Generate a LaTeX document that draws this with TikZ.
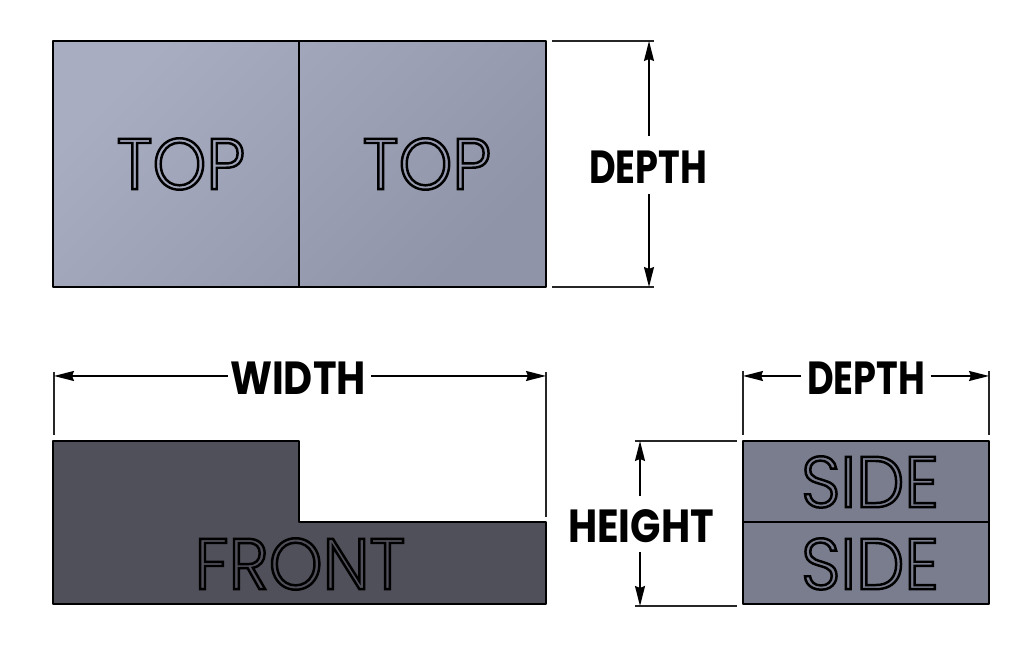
\documentclass[tikz,border=0pt]{standalone}
\usepackage{fontspec}
\setmainfont{Poppins Light}[FakeStretch=0.95]
\newfontfamily\dimfont{Poppins Bold}[FakeStretch=0.79]
\newfontfamily\dimwide{Poppins Bold}[FakeStretch=0.86]
\usetikzlibrary{arrows.meta}
\newcommand{\hollow}[1]{\special{pdf:code q 1 Tr 0.7 w 0 0 0 RG}#1\special{pdf:code Q}}
\definecolor{topa}{HTML}{A9ADC2}
\definecolor{topb}{HTML}{9094A9}
\definecolor{frontc}{HTML}{4F5059}
\definecolor{sidec}{HTML}{7A7D8E}
\tikzset{
  outline/.style={draw=black,line width=0.6pt,line join=round},
  engraved/.style={inner sep=0pt,font=\fontsize{20.5}{20.5}\selectfont},
  dimtext/.style={inner sep=0pt,font=\fontsize{13.2}{13.2}\dimfont},
  dimtextw/.style={inner sep=0pt,font=\fontsize{13.2}{13.2}\dimwide},
  extline/.style={draw=black!85,line width=0.5pt},
  dimline/.style={draw=black,line width=0.45pt,-{Stealth[length=2mm,width=1mm,inset=0.2mm]}},
}
\begin{document}
\begin{tikzpicture}[x=0.01cm,y=-0.01cm]
\useasboundingbox (0,0) rectangle (1024,659);
% top view
\shade[top color=topa,bottom color=topb,shading angle=45] (53,41) rectangle (546,287);
\draw[outline] (53,41) rectangle (546,287);
\draw[outline] (299,41) -- (299,287);
\node[engraved] (topa) at (181,164) {\hollow{TOP}};
\node[engraved] (topb) at (427,164) {\hollow{TOP}};
% front view
\draw[outline,fill=frontc] (53,441) -- (299,441) -- (299,522) -- (546,522) -- (546,604) -- (53,604) -- cycle;
\node[engraved] (front) at (300,564) {\hollow{FRONT}};
% side view
\draw[outline,fill=sidec] (743,441) rectangle (989,604);
\draw[outline] (743,522) -- (989,522);
\node[engraved] (sidea) at (870,482) {\hollow{SIDE}};
\node[engraved] (sideb) at (870,564) {\hollow{SIDE}};
% dimension labels
\node[dimtext] (depthr) at (648,167) {DEPTH};
\node[dimtextw] (width) at (298,378) {WIDTH};
\node[dimtext] (depths) at (866,378) {DEPTH};
\node[dimtextw] (height) at (641,526) {HEIGHT};
% extension lines
\draw[extline] (552,41) -- (654,41);
\draw[extline] (552,287) -- (654,287);
\draw[extline] (54,372) -- (54,435);
\draw[extline] (546,372) -- (546,517);
\draw[extline] (743,371) -- (743,435);
\draw[extline] (989,371) -- (989,435);
\draw[extline] (635,441) -- (737,441);
\draw[extline] (635,606) -- (737,606);
% dimension line ends
\coordinate (du) at (649,41);
\coordinate (dd) at (649,287);
\coordinate (wl) at (54,376);
\coordinate (wr) at (546,376);
\coordinate (sl) at (743,376);
\coordinate (sr) at (989,376);
\coordinate (hu) at (640,441);
\coordinate (hd) at (640,606);
% dimension lines
\draw[dimline] (depthr.north -| du) ++(0,-14) -- (du);
\draw[dimline] (depthr.south -| dd) ++(0,10) -- (dd);
\draw[dimline] (width.west |- wl) ++(-2,0) -- (wl);
\draw[dimline] (width.east |- wr) ++(5,0) -- (wr);
\draw[dimline] (depths.west |- sl) ++(-5,0) -- (sl);
\draw[dimline] (depths.east |- sr) ++(5,0) -- (sr);
\draw[dimline] (height.north -| hu) ++(0,-13) -- (hu);
\draw[dimline] (height.south -| hd) ++(0,9) -- (hd);
\end{tikzpicture}
\end{document}
